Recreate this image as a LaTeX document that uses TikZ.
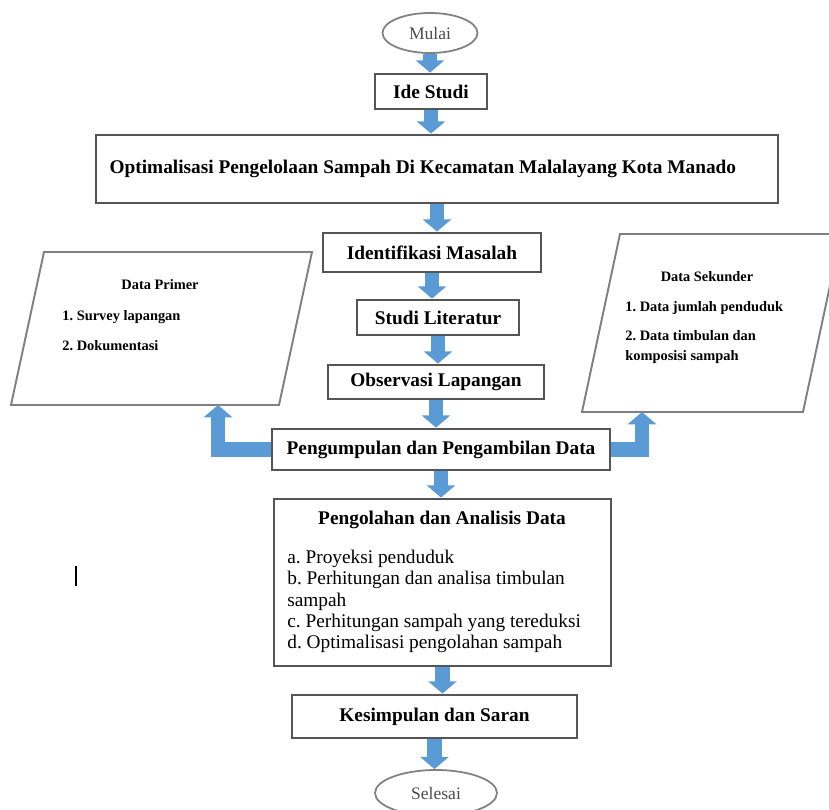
\documentclass[tikz,border=0pt]{standalone}
\usepackage{fontspec}
\setmainfont{Liberation Serif}
\usetikzlibrary{arrows.meta,shapes.geometric}
\definecolor{panahbiru}{HTML}{5B9BD5}
\definecolor{garis}{HTML}{555555}
\definecolor{garisabu}{HTML}{808080}
\frenchspacing

\begin{document}
\begin{tikzpicture}[x=0.02cm, y=-0.02cm,
        kotak/.style={draw=garis, line width=1.6pt, fill=white, inner sep=0pt,
            font=\fontsize{11}{13}\selectfont\bfseries},
        elips/.style={ellipse, draw=garisabu, line width=1pt, inner sep=0pt,
            text=black!70, font=\fontsize{10}{12}\selectfont},
        jajar/.style={draw=garisabu, line width=1.1pt},
        kecil/.style={inner sep=0pt, font=\fontsize{8.2}{11.3}\selectfont\bfseries},
        isi/.style={inner sep=0pt, font=\fontsize{11}{12.2}\selectfont},
        panah/.style={draw=panahbiru, line width=8pt, -{Triangle[length=7pt,width=16pt]}}]
        \useasboundingbox (0,0) rectangle (829,810);

        % alur utama
        \node[elips, minimum width=1.9cm, minimum height=0.8cm] (mulai) at (430,33) {Mulai};
        \node[kotak, minimum width=2.24cm, minimum height=0.7cm] (ide) at (431,91.5) {Ide Studi};
        \node[kotak, minimum width=13.64cm, minimum height=1.36cm, text width=13.1cm, align=flush left] (optim) at (437,169)
            {Optimalisasi Pengelolaan Sampah Di Kecamatan Malalayang Kota Manado};
        \node[kotak, minimum width=4.36cm, minimum height=0.78cm] (identifikasi) at (432,252.5) {Identifikasi Masalah};
        \node[kotak, minimum width=3.24cm, minimum height=0.7cm] (studi) at (438,317.5) {Studi Literatur};
        \node[kotak, minimum width=4.32cm, minimum height=0.68cm] (observasi) at (436,382) {Observasi Lapangan};
        \node[kotak, minimum width=6.76cm, minimum height=0.82cm] (kumpul) at (441,449.5) {Pengumpulan dan Pengambilan Data};
        \node[kotak, minimum width=6.74cm, minimum height=3.34cm] (olah) at (442.5,582.5) {};
        \node[kotak, draw=none, fill=none] (olahjudul) at (442,520) {Pengolahan dan Analisis Data};
        \node[isi, anchor=base west, align=flush left] (olahisi) at (287,649) {a. Proyeksi penduduk\\
            b. Perhitungan dan analisa timbulan\\
            sampah\\
            c. Perhitungan sampah yang tereduksi\\
            d. Optimalisasi pengolahan sampah};
        \node[kotak, minimum width=5.7cm, minimum height=0.86cm] (simpul) at (434.5,716.5) {Kesimpulan dan Saran};
        \node[elips, minimum width=2.44cm, minimum height=0.92cm] (selesai) at (436,793) {Selesai};

        % data primer
        \draw[jajar] (44,252) -- (312,252) -- (279,405) -- (11,405) -- cycle;
        \coordinate (primerbawah) at (218,405);
        \node[kecil] (primerjudul) at (160,285) {Data Primer};
        \node[kecil, anchor=base west, align=flush left] (primerisi) at (62,350.5)
            {1. Survey lapangan\\[5.7pt] 2. Dokumentasi};

        % data sekunder
        \draw[jajar] (620,234) -- (841,234) -- (803,412) -- (582,412) -- cycle;
        \coordinate (sekunderbawah) at (642,412);
        \node[kecil] (sekunderjudul) at (707,277) {Data Sekunder};
        \node[kecil, anchor=base west, align=flush left] (sekunderisi) at (625,360.5)
            {1. Data jumlah penduduk\\[5.1pt] 2. Data timbulan dan\\ komposisi sampah};

        \foreach \a/\b in {mulai/ide, ide/optim, optim/identifikasi, identifikasi/studi,
            studi/observasi, observasi/kumpul, kumpul/olah, olah/simpul, simpul/selesai} {
            \draw[panah] (\a.south) -- (\a.south |- \b.north);
        }
        \draw[panah] (kumpul.west) -| (primerbawah);
        \draw[panah] (kumpul.east) -| (sekunderbawah);

        \draw[line width=1pt] (76,566) -- (76,586);
    \end{tikzpicture}
\end{document}
